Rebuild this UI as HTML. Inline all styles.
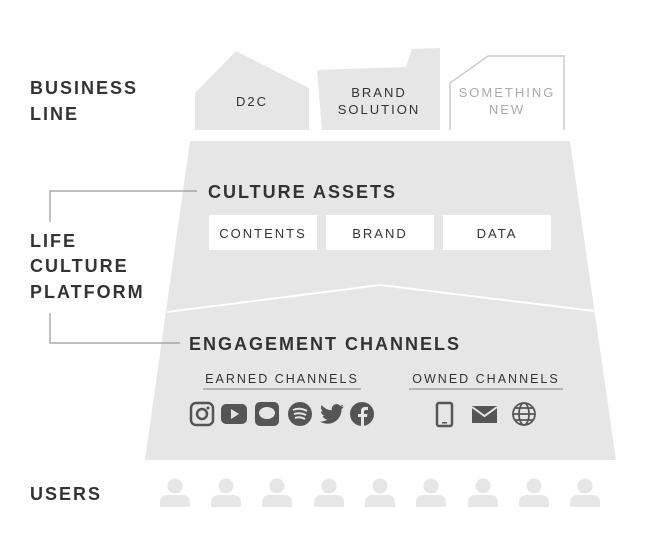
<!DOCTYPE html>
<html><head><style>body{margin:0;background:#fff}svg{display:block}text{font-family:"Liberation Sans",sans-serif;letter-spacing:2px}</style></head><body>
<svg width="650" height="556" viewBox="0 0 650 556">
<g fill="#e6e6e6">
<polygon points="195,130 195,93 236,51 309,88 309,130"/>
<polygon points="317,70 406,67 412,49 440,48 440,130 322,130"/>
<polygon points="190,141 570,141 616,460 145,460"/>
</g>
<polyline points="450,130 450,83 488,56 564,56 564,130" fill="none" stroke="#ccc" stroke-width="1.5"/>
<polyline points="167,312 380,285 594,311" fill="none" stroke="#fff" stroke-width="2"/>
<g fill="#fff"><rect x="209" y="215" width="108" height="35"/><rect x="326" y="215" width="108" height="35"/><rect x="443" y="215" width="108" height="35"/></g>
<g stroke="#999" stroke-width="1.2" fill="none"><polyline points="197,191 50,191 50,222"/><polyline points="50,313 50,343 180,343"/>
<line x1="203" y1="389" x2="361" y2="389"/><line x1="409" y1="389" x2="563" y2="389"/></g>
<g fill="#333" font-size="18" font-weight="bold">
<text x="30" y="94">BUSINESS</text><text x="30" y="120">LINE</text>
<text x="30" y="247">LIFE</text><text x="30" y="272">CULTURE</text><text x="30" y="298">PLATFORM</text>
<text x="30" y="500">USERS</text>
<text x="208" y="198">CULTURE ASSETS</text>
<text x="189" y="350">ENGAGEMENT CHANNELS</text></g>
<g fill="#333" font-size="13" text-anchor="middle">
<text x="252" y="106">D2C</text><text x="379" y="97">BRAND</text><text x="379" y="114">SOLUTION</text>
<text x="263" y="238">CONTENTS</text><text x="380" y="238">BRAND</text><text x="497" y="238">DATA</text>
<text x="282" y="383" font-size="12.5">EARNED CHANNELS</text><text x="486" y="383" font-size="12.5">OWNED CHANNELS</text></g>
<g fill="#aaa" font-size="13" text-anchor="middle"><text x="507" y="97">SOMETHING</text><text x="507" y="114">NEW</text></g>
<g fill="#555">
<rect x="191" y="403" width="22" height="22" rx="5" fill="none" stroke="#555" stroke-width="2.5"/><circle cx="202" cy="414" r="5" fill="none" stroke="#555" stroke-width="2.5"/><circle cx="208" cy="408" r="1.5"/>
<rect x="221" y="404" width="26" height="20" rx="5"/><polygon points="231,409 231,419 239,414" fill="#e6e6e6"/>
<rect x="255" y="402" width="24" height="24" rx="5"/><ellipse cx="267" cy="413" rx="8" ry="6" fill="#e6e6e6"/>
<circle cx="300" cy="414" r="12"/><g stroke="#e6e6e6" stroke-width="2" fill="none"><path d="M293,410 q7,-3 14,1"/><path d="M294,414 q6,-2 12,1"/><path d="M295,418 q5,-2 10,1"/></g>
<path transform="translate(320,402)" d="M24 4.5a10 10 0 0 1-2.8.8 4.9 4.9 0 0 0 2.1-2.7 9.8 9.8 0 0 1-3.1 1.2 4.9 4.9 0 0 0-8.4 4.5A14 14 0 0 1 1.7 3.1a4.9 4.9 0 0 0 1.5 6.6 4.9 4.9 0 0 1-2.2-.6 4.9 4.9 0 0 0 3.9 4.8 4.9 4.9 0 0 1-2.2.1 4.9 4.9 0 0 0 4.6 3.4A9.9 9.9 0 0 1 0 19.5a14 14 0 0 0 7.5 2.2c9 0 14-7.5 14-14v-.6A10 10 0 0 0 24 4.5z"/>
<circle cx="362" cy="414" r="12"/><path d="M364,426 v-9 h3 l0.5,-3 h-3.5 v-2 q0,-2 2,-2 h2 v-3 h-3 q-4,0 -4,4 v3 h-3 v3 h3 v9z" fill="#e6e6e6"/>
<rect x="437" y="403" width="15" height="23" rx="2" fill="none" stroke="#555" stroke-width="2.5"/><rect x="442" y="422" width="5" height="1.5"/>
<rect x="472" y="406" width="25" height="17"/><polyline points="472,407 484.5,416 497,407" fill="none" stroke="#e6e6e6" stroke-width="2"/>
<g fill="none" stroke="#555" stroke-width="1.8"><circle cx="524" cy="414" r="11"/><ellipse cx="524" cy="414" rx="5" ry="11"/><line x1="513" y1="414" x2="535" y2="414"/><line x1="515" y1="408" x2="533" y2="408"/><line x1="515" y1="420" x2="533" y2="420"/></g>
</g>
<g fill="#e6e6e6">
<g id="u"><circle cx="175" cy="486" r="7.5"/><path d="M160,507 v-4 q0,-8 8,-8 h14 q8,0 8,8 v4z"/></g>
<use href="#u" x="51"/><use href="#u" x="102"/><use href="#u" x="154"/><use href="#u" x="205"/><use href="#u" x="256"/><use href="#u" x="308"/><use href="#u" x="359"/><use href="#u" x="410"/>
</g>
</svg></body></html>
